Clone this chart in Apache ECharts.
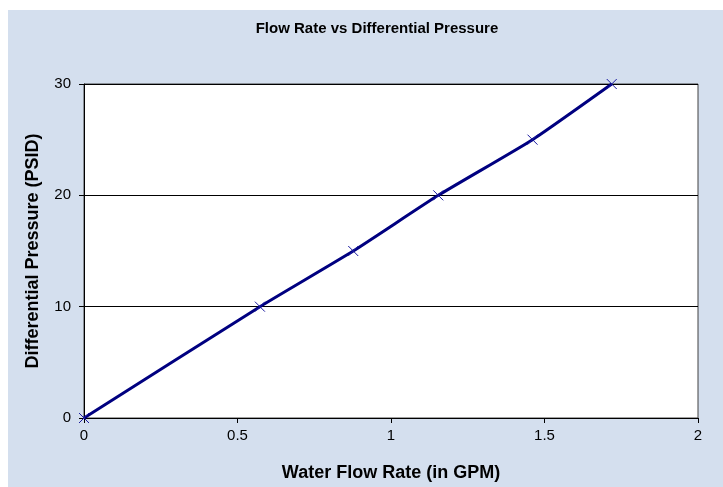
<!DOCTYPE html>
<html><head><meta charset="utf-8">
<script src="https://cdn.jsdelivr.net/npm/echarts@6/dist/echarts.min.js"></script>
<style>html,body{margin:0;padding:0;background:#fff}#c{width:723px;height:487px}</style>
</head><body><div id="c"></div>
<script>
const flowRate = [0, 0.573, 0.877, 1.154, 1.461, 1.719];
const pressure = [0, 10, 15, 20, 25, 30];
const xTicks = [0, 0.5, 1, 1.5, 2];
const yTicks = [0, 10, 20, 30];

const chart = echarts.init(document.getElementById('c'));
const font = '"Liberation Sans", Arial, sans-serif';
chart.setOption({
  backgroundColor: '#ffffff',
  animation: false,
  graphic: [{type: 'rect', z: -10, shape: {x: 8, y: 10, width: 715, height: 477}, style: {fill: '#d4dfee'}}],
  title: {text: 'Flow Rate vs Differential Pressure', left: 372, top: 16, textAlign: 'center',
    textStyle: {fontFamily: font, fontSize: 15, fontWeight: 'bold', color: '#000'}},
  grid: {left: 84, top: 84, right: 25, bottom: 67.5, show: true, backgroundColor: '#fff', borderColor: '#404040', borderWidth: 1},
  xAxis: {type: 'value', min: xTicks[0], max: xTicks[xTicks.length-1], interval: 0.5,
    name: 'Water Flow Rate (in GPM)', nameLocation: 'middle', nameGap: 46,
    nameTextStyle: {fontFamily: font, fontSize: 18, fontWeight: 'bold', color: '#000'},
    axisLine: {lineStyle: {color: '#000', width: 1}},
    axisTick: {show: true, length: 5, inside: false, lineStyle: {color: '#000'}},
    axisLabel: {fontFamily: font, fontSize: 15, color: '#000', margin: 10},
    splitLine: {show: false}},
  yAxis: {type: 'value', min: yTicks[0], max: yTicks[yTicks.length-1], interval: 10,
    name: 'Differential Pressure (PSID)', nameLocation: 'middle', nameGap: 42,
    nameTextStyle: {fontFamily: font, fontSize: 18, fontWeight: 'bold', color: '#000'},
    axisLine: {lineStyle: {color: '#000', width: 1}},
    axisTick: {show: true, length: 5, lineStyle: {color: '#000'}},
    axisLabel: {fontFamily: font, fontSize: 15, color: '#000', margin: 13},
    splitLine: {show: true, lineStyle: {color: '#000', width: 1}}},
  series: [{type: 'line', data: flowRate.map((x, i) => [x, pressure[i]]),
    smooth: 0.15, lineStyle: {color: '#000080', width: 3},
    symbol: 'path://M0,0L10,10M10,0L0,10', symbolSize: 10, showAllSymbol: true,
    itemStyle: {color: '#000080', borderColor: '#1a1aa0', borderWidth: 1}}]
});
</script></body></html>
